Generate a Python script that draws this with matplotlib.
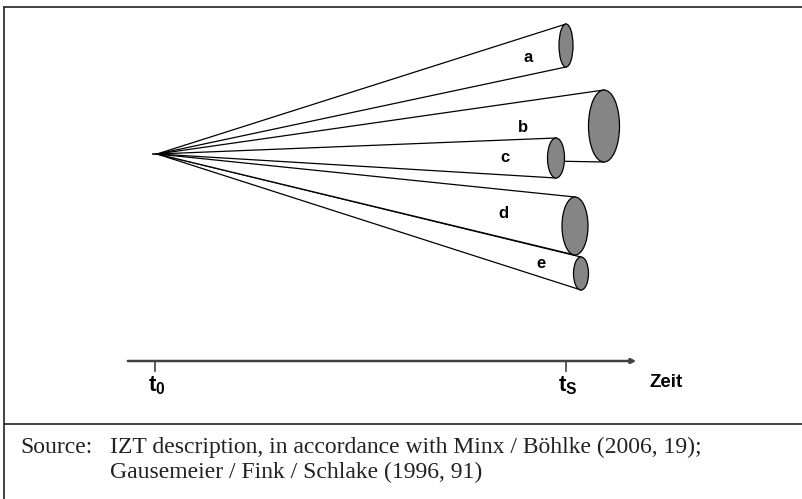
import matplotlib
matplotlib.use("Agg")
import matplotlib.pyplot as plt
from matplotlib.patches import Ellipse, Polygon, FancyArrowPatch

plt.rcParams["mathtext.fontset"] = "custom"
plt.rcParams["mathtext.bf"] = "Liberation Sans:bold"
plt.rcParams["mathtext.rm"] = "Liberation Sans"
plt.rcParams["mathtext.it"] = "Liberation Sans:italic"

# Scenario funnel data (diagram coordinates, pixel space)
scenario_labels = ["a", "b", "c", "d", "e"]
end_x = [566, 604, 556, 575, 581]          # position of cone end (time t_S)
end_y = [45.5, 126, 158, 226, 273.5]       # centre of scenario cone end
spread = [43, 72, 40, 58, 33]              # height of the cone end (ellipse)
depth = [14, 31, 17, 26, 15]               # ellipse width
label_x = [528, 523, 505, 503, 541]
label_y = [57, 127, 158, 214, 263]
draw_order = [0, 1, 4, 3, 2]

apex = (157, 154)
time_ticks = [155, 566]
time_labels = [r"$\mathbf{t_0}$", r"$\mathbf{t_S}$"]
source_lines = ["IZT description, in accordance with Minx / Böhlke (2006, 19);",
                "Gausemeier / Fink / Schlake (1996, 91)"]

fig = plt.figure(figsize=(8.02, 4.99), dpi=100)
ax = fig.add_axes([0, 0, 1, 1])
ax.set_xlim(0, 802)
ax.set_ylim(499, 0)
ax.axis("off")

# frame
ax.plot([3.5, 802], [7, 7], color="#333333", lw=1.3)
ax.plot([3.5, 3.5], [7, 499], color="#333333", lw=1.3)
ax.plot([3.5, 802], [424, 424], color="#333333", lw=1.3)

# apex stub
ax.plot([153, apex[0]], [apex[1], apex[1]], color="black", lw=1.2)

z = 2
for i in draw_order:
    x = end_x[i]
    top = end_y[i] - spread[i] / 2
    bot = end_y[i] + spread[i] / 2
    poly = Polygon([apex, (x, top), (x, bot)], closed=True,
                   facecolor="white", edgecolor="none", zorder=z)
    ax.add_patch(poly)
    ax.plot([apex[0], x], [apex[1], top], color="black", lw=0.9, zorder=z + 0.1)
    ax.plot([apex[0], x], [apex[1], bot], color="black", lw=0.9, zorder=z + 0.1)
    ell = Ellipse((x, end_y[i]), depth[i], spread[i], facecolor="#858585",
                  edgecolor="black", lw=0.9, zorder=z + 0.2)
    ax.add_patch(ell)
    ax.text(label_x[i], label_y[i], scenario_labels[i], fontsize=12,
            fontweight="bold", family="Liberation Sans", ha="center",
            va="center", zorder=z + 0.3)
    z += 1

# time axis
arrow = FancyArrowPatch((125, 361), (639, 361), arrowstyle="-|>",
                        mutation_scale=7, color="#404040", lw=1.8)
ax.add_patch(arrow)
for tx, tl in zip(time_ticks, time_labels):
    ax.plot([tx, tx], [361, 371], color="#404040", lw=1.2)
    ax.text(tx + 2, 391, tl, fontsize=16, ha="center", va="baseline")
ax.text(650, 387, "Zeit", fontsize=13.5, fontweight="bold",
        family="Liberation Sans", ha="left", va="baseline")

# source
ax.text(20, 453, "Source:", fontsize=17, family="Liberation Serif",
        ha="left", va="baseline", color="#222222")
for k, line in enumerate(source_lines):
    ax.text(110, 453 + 25 * k, line, fontsize=17, family="Liberation Serif",
            ha="left", va="baseline", color="#222222")

fig.savefig("out.png", dpi=100)
